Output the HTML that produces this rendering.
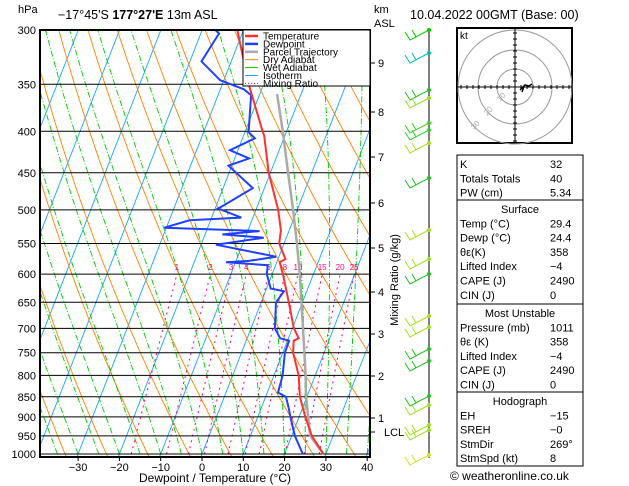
<!DOCTYPE html>
<html><head><meta charset="utf-8"><style>
body{margin:0;background:#fff;}
svg{display:block;font-family:"Liberation Sans",sans-serif;}
</style></head><body>
<svg id="c" width="629" height="486" viewBox="0 0 629 486">
<defs><clipPath id="clip"><rect x="40" y="30" width="330" height="427"/></clipPath></defs>
<g id="bg" clip-path="url(#clip)"></g>
<g id="prs"></g>
<g id="prof" clip-path="url(#clip)"></g>
<rect x="40" y="30" width="330" height="427" fill="none" stroke="#000" stroke-width="2"/>
<g id="legend">
<rect x="243" y="30" width="127" height="56" fill="#fff" stroke="#000" stroke-width="1"/>
</g>
<g id="axes" font-size="11" fill="#000"></g>
<text x="18" y="13" font-size="11">hPa</text>
<text x="58" y="19" font-size="12.5">−17°45'S <tspan font-weight="bold">177°27'E</tspan> 13m ASL</text>
<text x="374" y="13" font-size="11">km</text>
<text x="374" y="27" font-size="11">ASL</text>
<text x="410" y="19" font-size="12.5">10.04.2022 00GMT (Base: 00)</text>
<text x="215" y="482" font-size="12" text-anchor="middle">Dewpoint / Temperature (°C)</text>
<text transform="translate(398,280) rotate(-90)" font-size="11" text-anchor="middle">Mixing Ratio (g/kg)</text>
<g id="winds"><line x1="429" y1="30" x2="429" y2="458" stroke="#000" stroke-width="1"/></g>
<g id="hodo">
<rect x="457" y="28" width="115" height="115" fill="#fff" stroke="#000" stroke-width="2"/>
<text x="460" y="39" font-size="10">kt</text>
</g>
<g id="table" font-size="11"></g>
<text x="450" y="480" font-size="12">© weatheronline.co.uk</text>
</svg>
<script>
// ---- data ----
const tempP = [1000,950,900,850,800,750,725,720,700,650,600,580,575,550,530,500,450,405,400,350,300];
const tempT = [29.4,24.9,21.5,18.3,16.0,12.5,11.5,12.5,10.4,6.7,2.6,0.7,1.8,-1.2,-2.0,-4.6,-10.4,-15.0,-15.8,-23.6,-31.5];
const dewP = [1000,950,900,875,850,840,800,750,725,720,700,650,630,625,600,585,580,578,571,552,541,536,531,526,515,511,498,494,470,441,432,422,408,401,361,355,346,328,303,300];
const dewT = [24.4,20.8,17.9,16.5,14.9,12.6,12.1,10.5,10.4,8.0,5.8,3.6,4.5,1.0,-1.3,-1.9,-12.3,-6.9,-0.7,-16.4,-5.5,-15.8,-7.1,-30.5,-25.1,-12.8,-19.3,-18.3,-12.8,-20.8,-16.5,-21.9,-17.0,-19.1,-22.0,-24.3,-30.9,-37.2,-35.6,-36.8];
const parP = [1000,975,950,900,850,800,700,600,550,500,450,400,360];
const parT = [29.4,27.0,24.5,22.2,19.8,17.7,12.6,6.7,3.1,-1.0,-5.7,-10.9,-15.8];
const pressureTicks = [300,350,400,450,500,550,600,650,700,750,800,850,900,950,1000];
const tempTicks = [-30,-20,-10,0,10,20,30,40];
const mixRatios = [1,2,3,4,6,8,10,15,20,25];
const kmTicks = ["1","2","3","4","5","6","7","8","9"];
const kmY = [418,376,334,292,248,203,157,112,63];
// ---- scales ----
const NS="http://www.w3.org/2000/svg";
function yP(p){return 30+424*Math.log(p/300)/Math.log(1000/300);}
function xT(T,p){return 202+4.13*T+0.39*(454-yP(p));}
function mk(tag,attrs,parent){const e=document.createElementNS(NS,tag);for(const k in attrs)e.setAttribute(k,attrs[k]);parent.appendChild(e);return e;}
function poly(pts,parent,stroke,w,dash){const d=pts.map((q,i)=>(i?'L':'M')+q[0].toFixed(1)+' '+q[1].toFixed(1)).join('');const e=mk('path',{d:d,fill:'none',stroke:stroke,'stroke-width':w},parent);if(dash)e.setAttribute('stroke-dasharray',dash);return e;}
const bg=document.getElementById('bg');
// isotherms
for(let T=-120;T<=40;T+=10){const l=poly([[xT(T,1050),yP(1050)],[xT(T,290),yP(290)]],bg,'#1aa3ff',0.9);

}
// dry adiabats
for(let th=240;th<=480;th+=10){const pts=[];for(let p=1050;p>=290;p-=10){pts.push([xT(th*Math.pow(p/1000,0.286)-273.15,p),yP(p)]);}const l=poly(pts,bg,'#ff8000',0.9);

}
// wet adiabats
function es(T){return 6.112*Math.exp(17.67*T/(T+243.5));}
function moist(T0){const pts=[];let T=T0+273.15;for(let p=1000;p>=290;p-=5){pts.push([xT(T-273.15,p),yP(p)]);const e=es(T-273.15),rs=0.622*e/(p-e);const dTdp=(287*T+2.5e6*rs)/(p*(1004+2.5e6*2.5e6*rs*0.622/(287*T*T)));T-=dTdp*5;}return pts;}
for(let t=-35;t<=40;t+=5){const l=poly(moist(t),bg,'#00cc00',0.9,'6,2,1,2');

}
// mixing ratio
function tdw(w,p){const e=w*p/(622+w);const a=Math.log(e/6.112);return 243.5*a/(17.67-a);}
mixRatios.forEach(w=>{const pts=[];for(let p=1000;p>=600;p-=20)pts.push([xT(tdw(w,p),p),yP(p)]);const l=poly(pts,bg,'#ff0080',1,'2,4');


const t=mk('text',{x:xT(tdw(w,600),600).toFixed(1),y:270,'font-size':8,fill:'#ff0080','text-anchor':'middle'},bg);t.textContent=w;

});
// pressure lines & labels
const prs=document.getElementById('prs'),axes=document.getElementById('axes');
pressureTicks.forEach(p=>{const y=yP(p);const l=mk('line',{x1:40,x2:370,y1:y,y2:y,stroke:'#000','stroke-width':1},prs);


const t=mk('text',{x:36,y:y+4,'text-anchor':'end'},axes);t.textContent=p;

});
tempTicks.forEach(T=>{const x=xT(T,1000);mk('line',{x1:x,x2:x,y1:457,y2:461,stroke:'#000'},axes);const t=mk('text',{x:x,y:471,'text-anchor':'middle'},axes);t.textContent=T<0?'−'+(-T):T;

});
kmTicks.forEach((k,i)=>{mk('line',{x1:370,x2:375,y1:kmY[i],y2:kmY[i],stroke:'#000'},axes);const t=mk('text',{x:378,y:kmY[i]+4},axes);t.textContent=k;

});
mk('line',{x1:370,x2:375,y1:432,y2:432,stroke:'#000'},axes);
const lcl=mk('text',{x:384,y:436},axes);lcl.textContent='LCL';


// profiles
const prof=document.getElementById('prof');
const pl=poly(parP.map((p,i)=>[xT(parT[i],p),yP(p)]),prof,'#aaaaaa',2.5);


const dl=poly(dewP.map((p,i)=>[xT(dewT[i],p),yP(p)]),prof,'#2040ff',2);


const tl=poly(tempP.map((p,i)=>[xT(tempT[i],p),yP(p)]),prof,'#ff3030',2);


// legend
const leg=document.getElementById('legend');
const legItems=[['Temperature','#ff3030',2.5,null],['Dewpoint','#2040ff',2.5,null],['Parcel Trajectory','#aaaaaa',2.5,null],['Dry Adiabat','#ff8000',1,null],['Wet Adiabat','#00cc00',1,null],['Isotherm','#1aa3ff',1,null],['Mixing Ratio','#ff0080',1,'1,2']];
legItems.forEach((it,i)=>{const y=36+i*7.9;const l=mk('line',{x1:245,x2:258,y1:y,y2:y,stroke:it[1],'stroke-width':it[2]},leg);if(it[3])l.setAttribute('stroke-dasharray',it[3]);const t=mk('text',{x:263,y:y+3.5,'font-size':10},leg);t.textContent=it[0];

});
// wind barbs
const winds=document.getElementById('winds');
const barbY=[30,53,90,98,123,130,143,178,230,259,274,316,327,349,361,396,405,425,430,455];
const barbC=['#00cc00','#00c0a0','#20c020','#90e020','#40cc20','#30cc30','#a0e020','#20c020','#a0e020','#a0e020','#20c020','#a0e020','#a0e020','#20c020','#20c020','#20c020','#a0e020','#a0e020','#a0e020','#d0e020'];
barbY.forEach((y,i)=>{const c=barbC[i];mk('circle',{cx:429,cy:y,r:2,fill:c},winds);const b=mk('path',{d:`M429 ${y} L410 ${y+10} L405 ${y+2} M416 ${y+7} L412 ${y}`,fill:'none',stroke:c,'stroke-width':1},winds);

});
// hodograph
const hodo=document.getElementById('hodo');const cx=515,cy=87;
[18,37,57].forEach(r=>mk('circle',{cx:cx,cy:cy,r:r,fill:'none',stroke:'#999'},hodo));
mk('line',{x1:457,x2:572,y1:cy,y2:cy,stroke:'#000'},hodo);mk('line',{x1:cx,x2:cx,y1:28,y2:143,stroke:'#000'},hodo);
for(let k=-9;k<=9;k++){mk('line',{x1:cx+k*6,x2:cx+k*6,y1:cy-2,y2:cy+2,stroke:'#000'},hodo);mk('line',{x1:cx-2,x2:cx+2,y1:cy+k*6,y2:cy+k*6,stroke:'#000'},hodo);}
mk('path',{d:'M520 90 L525 85 L529 86 L532 84 M522 92 L524 86',fill:'none',stroke:'#000','stroke-width':1.5},hodo);
[['10',500,102,-45],['20',487,116,-45],['30',474,130,-45]].forEach(a=>{const t=mk('text',{x:a[1],y:a[2],'font-size':8,fill:'#aaa',transform:`rotate(${a[3]} ${a[1]} ${a[2]})`},hodo);t.textContent=a[0];});
// table
const tbl=document.getElementById('table');
const rows=[[155,[['K','32'],['Totals Totals','40'],['PW (cm)','5.34']],null],[200,[['Temp (°C)','29.4'],['Dewp (°C)','24.4'],['θε(K)','358'],['Lifted Index','−4'],['CAPE (J)','2490'],['CIN (J)','0']],'Surface'],[304,[['Pressure (mb)','1011'],['θε (K)','358'],['Lifted Index','−4'],['CAPE (J)','2490'],['CIN (J)','0']],'Most Unstable'],[392,[['EH','−15'],['SREH','−0'],['StmDir','269°'],['StmSpd (kt)','8']],'Hodograph']];
const ends=[200,304,392,466];
rows.forEach((sec,si)=>{const y0=sec[0];mk('rect',{x:457,y:y0,width:126,height:ends[si]-y0,fill:'none',stroke:'#000','stroke-width':1},tbl);let y=y0+14;
if(sec[2]){const t=mk('text',{x:520,y:y-1,'text-anchor':'middle'},tbl);t.textContent=sec[2];y+=14.3;}
sec[1].forEach(r=>{const a=mk('text',{x:460,y:y-1},tbl);a.textContent=r[0];const b=mk('text',{x:550,y:y-1},tbl);b.textContent=r[1];




y+=14.3;});});
</script>
</body></html>
